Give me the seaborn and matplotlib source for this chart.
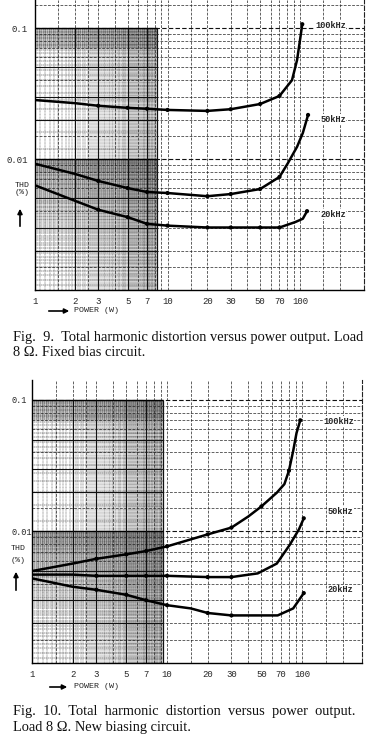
import numpy as np
import pandas as pd
import matplotlib
matplotlib.use("Agg")
import matplotlib.pyplot as plt
from matplotlib.patches import FancyArrowPatch
from matplotlib.ticker import NullLocator
import seaborn as sns

# --- values (power in W, THD in %) ---

# Fig. 9 - fixed bias circuit
fig9_100k_w = [1, 2, 3, 5, 7, 10, 20, 30, 50, 70, 87, 95, 100, 104]
fig9_100k_thd = [0.0282, 0.0267, 0.0255, 0.0246, 0.0242, 0.0237, 0.0233, 0.0240,
                 0.0263, 0.0303, 0.040, 0.057, 0.081, 0.107]
fig9_50k_w = [1, 2, 3, 5, 7, 10, 20, 30, 50, 70, 81, 95, 105, 115]
fig9_50k_thd = [0.0092, 0.0077, 0.0068, 0.0060, 0.0056, 0.0055, 0.0052, 0.0054,
                0.0059, 0.0073, 0.0093, 0.0124, 0.0158, 0.0217]
fig9_20k_w = [1, 2, 3, 5, 7, 10, 20, 30, 50, 70, 92, 105, 113]
fig9_20k_thd = [0.0063, 0.0048, 0.0041, 0.0036, 0.0032, 0.0031, 0.0030, 0.0030,
                0.0030, 0.0030, 0.0033, 0.0035, 0.0040]

# Fig. 10 - new biasing circuit
fig10_100k_w = [1, 2, 3, 5, 7, 10, 20, 30, 40, 50, 65, 74, 80, 86, 91, 97]
fig10_100k_thd = [0.0050, 0.0057, 0.0062, 0.0067, 0.0071, 0.0077, 0.0095, 0.0107,
                  0.0130, 0.0155, 0.0197, 0.0229, 0.029, 0.041, 0.056, 0.070]
fig10_50k_w = [1, 2, 3, 5, 7, 10, 20, 30, 47, 65, 81, 95, 103]
fig10_50k_thd = [0.0047, 0.0047, 0.0046, 0.0046, 0.0046, 0.0046, 0.0045, 0.0045,
                 0.0048, 0.0057, 0.0079, 0.0104, 0.0126]
fig10_20k_w = [1, 2, 3, 5, 7, 10, 15, 20, 30, 43, 66, 86, 103]
fig10_20k_thd = [0.0044, 0.0038, 0.0036, 0.0033, 0.0030, 0.00275, 0.0026, 0.0024,
                 0.0023, 0.0023, 0.0023, 0.0026, 0.0034]

freq_labels = ["100kHz", "50kHz", "20kHz"]
tick_powers = [1, 2, 3, 5, 7, 10, 20, 30, 50, 70, 100]
tick_labels = ["1", "2", "3", "5", "7", "10", "20", "30", "50", "70", "100"]
mark_powers = [3, 5, 7, 10, 20, 30, 50, 70, 80]

W, H = 379, 742
MONO = ["Liberation Mono", "DejaVu Sans Mono"]
SERIF = ["Liberation Serif", "DejaVu Serif"]


def fx(px):
    return px / W


def fy(py):
    return 1 - py / H


def build_frame(series):
    frames = []
    for name, w, t in series:
        frames.append(pd.DataFrame({"power": w, "thd": t, "freq": name}))
    return pd.concat(frames, ignore_index=True)


def graph_paper(ax, dense_to, xmax, ymax):
    ax.set_xscale("log")
    ax.set_yscale("log")
    ax.set_xlim(1, xmax)
    ax.set_ylim(0.001, ymax)
    dash = (0, (4, 2))

    # fine rulings of the 1..dense_to block (prints almost black on the scan)
    fine_x = np.arange(1.1, dense_to, 0.1)
    ax.vlines(fine_x, 0.001, 0.1, color="#333333", lw=0.35, ls=(0, (2, 1)), zorder=0)
    low_y = np.arange(1.1, 10, 0.1) * 0.001
    ax.hlines(low_y, 1, dense_to, color="#2a2a2a", lw=0.35, ls=(0, (3, 1)), zorder=0)
    up_y = np.concatenate([np.arange(1.2, 7, 0.4), np.arange(7, 10, 0.12)]) * 0.01
    ax.hlines(up_y, 1, dense_to, color="#2a2a2a", lw=0.35, ls=(0, (3, 1)), zorder=0)
    ax.vlines([dense_to], 0.001, 0.1, color="#111111", lw=0.9, zorder=1)

    # dashed rulings over the whole sheet
    mid_x = [1.5, 2, 2.5, 3, 4, 5, 6, 7, 8, 9, 10, 15, 20, 30, 40, 50, 60, 70, 80, 90,
             100, 150, 200]
    for v in mid_x:
        if v < xmax:
            ax.axvline(v, color="#222222", lw=0.5, ls=dash, zorder=1)
    for dec in [0.001, 0.01, 0.1]:
        for m in [1.5, 2, 3, 4, 5, 6, 7, 8, 9]:
            if m * dec < ymax:
                ax.axhline(m * dec, color="#222222", lw=0.5, ls=dash, zorder=1)
    for v in [0.01, 0.1]:
        ax.axhline(v, color="#111111", lw=0.8, ls=dash, zorder=1)
        ax.hlines(v, 1, dense_to, color="#000000", lw=1.0, zorder=1)
    for m in [2, 3, 5]:
        ax.hlines([m * 0.001, m * 0.01], 1, dense_to, color="#111111", lw=0.8, zorder=1)
    for v in [2, 3, 5, 7]:
        ax.vlines(v, 0.001, 0.1, color="#111111", lw=0.8, zorder=1)

    ax.set_xticks(tick_powers)
    ax.set_xticklabels(tick_labels, family=MONO, fontsize=6.5)
    ax.xaxis.set_minor_locator(NullLocator())
    ax.yaxis.set_minor_locator(NullLocator())
    ax.set_yticks([0.01, 0.1])
    ax.set_yticklabels(["0.01", "0.1"], family=MONO, fontsize=6.5)
    ax.tick_params(length=0, pad=5)
    ax.set_xlabel("")
    ax.set_ylabel("")
    for side in ["left", "bottom"]:
        ax.spines[side].set_color("black")
        ax.spines[side].set_linewidth(1.0)
    ax.spines["right"].set_color("#222222")
    ax.spines["right"].set_linewidth(0.8)
    ax.spines["right"].set_linestyle(dash)
    ax.spines["top"].set_visible(False)


def draw_curves(ax, df):
    sns.lineplot(data=df, x="power", y="thd", units="freq", estimator=None,
                 color="black", lw=1.8, sort=False, ax=ax, zorder=3)
    marks = df[df["power"].isin(mark_powers)]
    ends = df.groupby("freq").tail(1)
    pts = pd.concat([marks, ends])
    sns.scatterplot(data=pts, x="power", y="thd", color="black", s=9,
                    edgecolor="none", ax=ax, zorder=4, legend=False)
    ax.set_xlabel("")
    ax.set_ylabel("")


def fig_arrow(fig, start, end):
    fig.add_artist(FancyArrowPatch((fx(start[0]), fy(start[1])), (fx(end[0]), fy(end[1])),
                                   transform=fig.transFigure, arrowstyle="-|>",
                                   mutation_scale=7, lw=1.2, color="black"))


sns.set_theme(style="white")
plt.rcParams["font.family"] = ["DejaVu Sans"]

df9 = build_frame([(freq_labels[0], fig9_100k_w, fig9_100k_thd),
                   (freq_labels[1], fig9_50k_w, fig9_50k_thd),
                   (freq_labels[2], fig9_20k_w, fig9_20k_thd)])
df10 = build_frame([(freq_labels[0], fig10_100k_w, fig10_100k_thd),
                    (freq_labels[1], fig10_50k_w, fig10_50k_thd),
                    (freq_labels[2], fig10_20k_w, fig10_20k_thd)])

fig = plt.figure(figsize=(W / 100, H / 100), dpi=100)
fig.patch.set_facecolor("white")

# top chart: axis box from x 35..364 px, y 0..290 px
ax1 = fig.add_axes([fx(35), fy(290), fx(364) - fx(35), fy(0) - fy(290)])
graph_paper(ax1, 8.3, 304, 0.1637)
draw_curves(ax1, df9)
for name, x, y in [("100kHz", 130, 0.105), ("50kHz", 142, 0.0202), ("20kHz", 142, 0.0038)]:
    ax1.text(x, y, name, family=MONO, fontsize=6.2, fontweight="bold", ha="left", va="center",
             bbox=dict(facecolor="white", edgecolor="none", pad=0.3))

# bottom chart: axis box from x 32..362 px, y 380..663 px
ax2 = fig.add_axes([fx(32), fy(663), fx(362) - fx(32), fy(380) - fy(663)])
graph_paper(ax2, 9.3, 278, 0.1417)
draw_curves(ax2, df10)
for lab in ax2.get_yticklabels():
    lab.set_horizontalalignment("left")
    lab.set_fontsize(6.2)
ax2.tick_params(axis="y", pad=15)
for name, x, y in [("100kHz", 143, 0.069), ("50kHz", 155, 0.0143), ("20kHz", 155, 0.0036)]:
    ax2.text(x, y, name, family=MONO, fontsize=6.2, fontweight="bold", ha="left", va="center",
             bbox=dict(facecolor="white", edgecolor="none", pad=0.3))

# axis annotations, typed like the original sheet
fig.text(fx(22), fy(189), "THD\n(%)", family=MONO, fontsize=6, ha="center", va="center",
         linespacing=1.0)
fig.text(fx(18), fy(548), "THD", family=MONO, fontsize=6, ha="center", va="center")
fig.text(fx(18), fy(561), "(%)", family=MONO, fontsize=6, ha="center", va="center")
fig_arrow(fig, (20, 229), (20, 206))
fig_arrow(fig, (16, 593), (16, 569))
fig_arrow(fig, (46, 311), (72, 311))
fig_arrow(fig, (47, 687), (70, 687))
fig.text(fx(74), fy(311), "POWER (W)", family=MONO, fontsize=6, ha="left", va="center")
fig.text(fx(74), fy(687), "POWER (W)", family=MONO, fontsize=6, ha="left", va="center")

# captions
cap = dict(family=SERIF, fontsize=10.4, ha="left", va="center", color="#111111")
fig.text(fx(13), fy(337), "Fig.  9.  Total harmonic distortion versus power output. Load", **cap)
fig.text(fx(13), fy(352), "8 \u03a9. Fixed bias circuit.", **cap)
fig.text(fx(13), fy(712), "Fig.  10.  Total  harmonic  distortion  versus  power  output.", **cap)
fig.text(fx(13), fy(727), "Load 8 \u03a9. New biasing circuit.", **cap)

fig.savefig("out.png", dpi=100, facecolor="white")
